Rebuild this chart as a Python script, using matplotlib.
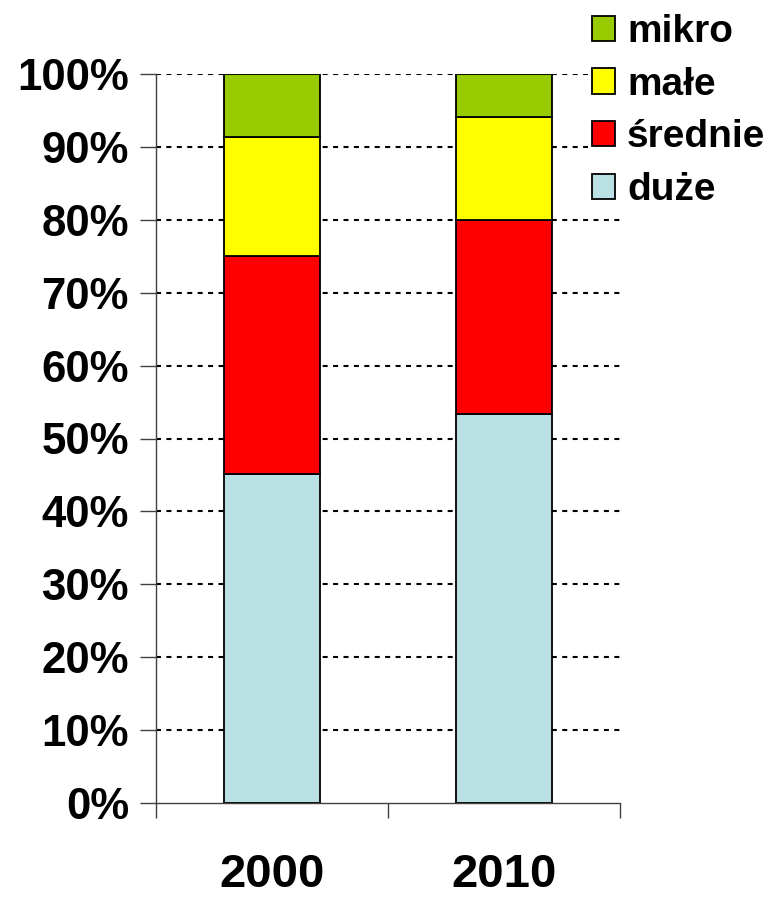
import matplotlib
matplotlib.use("Agg")
import matplotlib.pyplot as plt
from matplotlib.patches import Patch
import numpy as np

years = ["2000", "2010"]
series = ["duże", "średnie", "małe", "mikro"]
duze = [45.1, 53.4]
srednie = [29.9, 26.6]
male = [16.4, 14.1]
mikro = [8.6, 5.9]
colors = ["#B9E0E3", "#FF0000", "#FFFF00", "#99CC00"]
yticklabels = ["0%", "10%", "20%", "30%", "40%", "50%", "60%", "70%", "80%", "90%", "100%"]

plt.rcParams['font.family'] = ['Liberation Sans', 'DejaVu Sans']
plt.rcParams['font.weight'] = 'bold'

fig = plt.figure(figsize=(7.69, 8.99), dpi=100)
ax = fig.add_axes([156/769, 96/899, 464/769, 729/899])

x = np.arange(len(years))
bottom = np.zeros(len(years))
handles = []
for name, vals, c in zip(series, [duze, srednie, male, mikro], colors):
    ax.bar(x, vals, width=0.41, bottom=bottom, color=c, edgecolor="black",
           linewidth=1.3, zorder=3)
    bottom += np.array(vals)
    handles.append(Patch(facecolor=c, edgecolor="black", linewidth=1.3, label=name))

ax.set_xlim(-0.5, 1.5)
ax.set_ylim(0, 100)

ax.set_yticks(np.arange(0, 101, 10))
ax.set_yticklabels(yticklabels, fontsize=31.5, fontweight='bold')
ax.tick_params(axis='y', length=11.5, width=1, pad=8, color='#404040')

ax.set_xticks([-0.5, 0.5, 1.5])
ax.set_xticklabels(["", "", ""])
ax.set_xticks(x, minor=True)
ax.set_xticklabels(years, minor=True, fontsize=34, fontweight='bold')
ax.tick_params(axis='x', which='major', length=11, width=1, color='#404040')
ax.tick_params(axis='x', which='minor', length=0, pad=36)

for s in ['top', 'right']:
    ax.spines[s].set_visible(False)
for s in ['left', 'bottom']:
    ax.spines[s].set_color('#404040')
    ax.spines[s].set_linewidth(1)

for v in np.arange(10, 101, 10):
    ax.axhline(v, color='black', linewidth=1.5, linestyle=(0, (2.4, 2.6)), zorder=1)

leg = fig.legend(handles=handles[::-1], loc='upper left',
                 bbox_to_anchor=(588/769, 1 - 10/899), fontsize=28,
                 frameon=True, facecolor='white', edgecolor='none', framealpha=1,
                 handlelength=0.6, handleheight=0.62, handletextpad=0.3,
                 labelspacing=0.43, borderpad=0.1, borderaxespad=0)
for t in leg.get_texts():
    t.set_fontweight('bold')
leg.set_zorder(5)

fig.savefig("out.png", dpi=100)
